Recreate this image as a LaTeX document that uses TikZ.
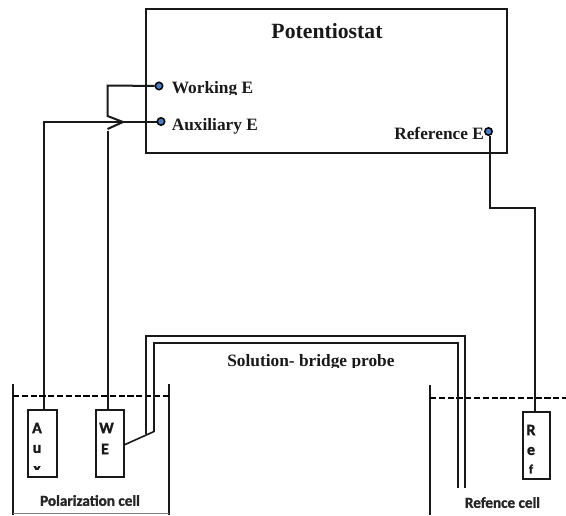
\documentclass[tikz,border=0pt]{standalone}
\usepackage{fontspec}
\setmainfont{Liberation Serif}
\newfontfamily\cellfont[BoldFont={Carlito Bold},BoldFeatures={FakeBold=1.5}]{Carlito}
\definecolor{termblue}{RGB}{70,125,195}
\tikzset{
 px/.style={x=0.75pt,y=-0.75pt},
 wire/.style={draw=black!90,line width=1.5pt,line join=miter},
 thin wire/.style={draw=black!90,line width=1.2pt},
 boxed/.style={draw=black!90,line width=1.5pt,fill=none,inner sep=0pt,outer sep=0pt,rectangle},
 term/.style={circle,draw=black,fill=termblue,line width=1.1pt,inner sep=0pt,minimum size=5.6pt},
 serif lab/.style={font=\rmfamily\bfseries\fontsize{13}{15}\selectfont,anchor=base west,inner sep=0pt,text=black!90},
 cell lab/.style={font=\cellfont\bfseries\fontsize{11.4}{13}\selectfont,inner sep=0pt,text=black!85},
 letter/.style={font=\cellfont\bfseries\fontsize{12}{14}\selectfont,inner sep=0pt,text=black!90},
 dash line/.style={draw=black,line width=1.3pt,dash pattern=on 4.6pt off 2pt},
}
\begin{document}
\begin{tikzpicture}[px]
\useasboundingbox (0,0) rectangle (566,515);
% potentiostat
\node[boxed,minimum width=361*0.75pt,minimum height=144*0.75pt,anchor=north west] (pot) at (146,9) {};
\node[font=\rmfamily\bfseries\fontsize{16.3}{18}\selectfont,inner sep=0pt,text=black!90] (title) at (327,31) {Potentiostat};
\node[term] (we) at (159,86) {};
\node[term] (ae) at (161,121.5) {};
\node[term] (re) at (488.5,131.5) {};
\begin{scope}
\clip (165,70) rectangle (300,94);
\node[serif lab] (welab) at (171.5,93.2) {Working E};
\end{scope}
\node[serif lab] (aelab) at (171.5,130) {Auxiliary E};
\node[serif lab] (relab) at (394,139) {Reference E};
% electrode boxes
\node[boxed,minimum width=29*0.75pt,minimum height=67*0.75pt,anchor=north west] (aux) at (28,410) {};
\node[boxed,minimum width=28*0.75pt,minimum height=67*0.75pt,anchor=north west] (wbox) at (96,410) {};
\node[boxed,minimum width=26.5*0.75pt,minimum height=67*0.75pt,anchor=north west] (ref) at (523,412) {};
\node[letter] (a1) at (37,428) {A};
\node[letter] (a2) at (37,449) {u};
\begin{scope}
\clip (30,464) rectangle (50,469.5);
\node[letter] (a3) at (37,470) {x};
\end{scope}
\node[letter] (w1) at (106.5,428) {W};
\node[letter] (w2) at (105,449) {E};
\node[letter] (r1) at (531,430) {R};
\node[letter] (r2) at (531,451) {e};
\node[letter,font=\cellfont\bfseries\fontsize{9.5}{11}\selectfont] (r3) at (531,469) {f};
% wires
\coordinate (wa) at (107.5,85.5);
\coordinate (wb) at (107.5,116);
\coordinate (wc) at (123,122);
\coordinate (wd) at (107.5,129);
\coordinate (we2) at (107.5,131);
\coordinate (aa) at (44,122);
\draw[wire] (we) -- (wa) -- (wb) -- (wc) -- (wd);
\draw[wire] (we2) -- (wbox.north -| we2);
\draw[wire] (ae) -- (ae -| aa) -- (aa |- aux.north);
\coordinate (rb) at (490,207.5);
\coordinate (rc) at (535,207.5);
\draw[wire] (re.south -| rb) -- (rb) -- (rc) -- (ref.north -| rc);
% polarization cell
\coordinate (pl) at (13,384);
\coordinate (pr) at (169,384);
\coordinate (pbl) at (13,515);
\coordinate (pbr) at (169,515);
\draw[wire] (pl) -- (pbl);
\draw[wire] (pr) -- (pbr);
\draw[draw=black!50,line width=0.8pt] (13,513.5) -- (169,513.5);
\draw[dash line] (13,396) -- (169,396);
\node[cell lab] (pc) at (90,500.5) {Polarization cell};
% reference cell
\coordinate (rl) at (430,385);
\coordinate (rbl) at (430,515);
\draw[wire] (rl) -- (rbl);
\coordinate (dl) at (430,398);
\coordinate (dr) at (566,398);
\draw[dash line] (dl) -- (dr);
\node[cell lab] (rcl) at (502.5,502.5) {Refence cell};
% bridge probe
\coordinate (o1) at (146,434);
\coordinate (o2) at (146,336);
\coordinate (o3) at (465,336);
\coordinate (o4) at (465,488);
\coordinate (i1) at (154,431.5);
\coordinate (i2) at (154,343);
\coordinate (i3) at (458,343);
\coordinate (i4) at (458,488);
\draw[thin wire] (o1) -- (o2) -- (o3) -- (o4);
\draw[thin wire] (i1) -- (i2) -- (i3) -- (i4);
\draw[thin wire] (wbox.east |- 0,445) -- (i1);
\begin{scope}
\clip (220,340) rectangle (420,367.5);
\node[serif lab] (sb) at (227,366) {Solution- bridge probe};
\end{scope}
\end{tikzpicture}
\end{document}
